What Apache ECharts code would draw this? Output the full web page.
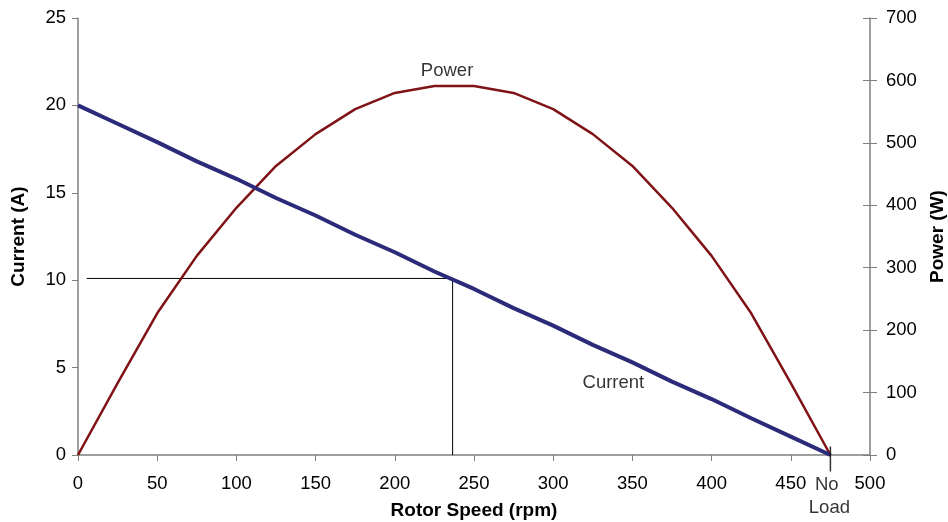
<!DOCTYPE html>
<html><head><meta charset="utf-8">
<script src="https://cdn.jsdelivr.net/npm/echarts@6/dist/echarts.min.js"></script>
<style>html,body{margin:0;padding:0;background:#fff}#c{width:948px;height:522px}</style>
</head><body><div id="c"></div>
<script>
const speeds = [0,25,50,75,100,125,150,175,200,225,250,275,300,325,350,375,400,425,450,475];
const currentA = [20,18.95,17.9,16.8,15.8,14.7,13.7,12.6,11.6,10.5,9.5,8.4,7.4,6.3,5.3,4.2,3.2,2.1,1.05,0];
const powerW = [0,115,227,319,396,463,514,554,580,591,591,580,554,514,463,396,319,227,115,0];
const guideX = [5.5,236.5,236.5];
const guideY = [10.1,10.1,0];
const noLoadSpeed = 475;
const powerLabel = {x:233, y:615, text:'Power'};
const currentLabel = {x:338, y:4.1, text:'Current'};
const xTicks = {min:0,max:500,interval:50};
const leftTicks = {min:0,max:25,interval:5};
const rightTicks = {min:0,max:700,interval:100};

const font = 'Liberation Sans, Arial, sans-serif';
const fs = 18.5, fsB = 19;
const axisGrey = '#7f7f7f';
const gridRect = {left:78,right:78,top:18,bottom:67,outerBoundsMode:'none',containLabel:false};
const chart = echarts.init(document.getElementById('c'), null, {renderer:'canvas'});
chart.setOption({
  animation:false,
  grid:[Object.assign({},gridRect), Object.assign({},gridRect)],
  xAxis:[
    {type:'value',gridIndex:0,min:xTicks.min,max:xTicks.max,interval:xTicks.interval,
    name:'Rotor Speed (rpm)',nameLocation:'middle',nameGap:46,
    nameTextStyle:{fontFamily:font,fontSize:fsB,fontWeight:'bold',color:'#000'},
    axisLine:{show:true,onZero:false,lineStyle:{color:axisGrey,width:1.5}},
    axisTick:{show:true,length:6,lineStyle:{color:axisGrey}},
    axisLabel:{fontFamily:font,fontSize:fs,color:'#000',margin:19},
    splitLine:{show:false}},
    {type:'value',gridIndex:1,min:xTicks.min,max:xTicks.max,show:false}
  ],
  yAxis:[
    {type:'value',gridIndex:0,position:'left',min:leftTicks.min,max:leftTicks.max,interval:leftTicks.interval,
      name:'Current (A)',nameLocation:'middle',nameGap:50,nameRotate:90,
      nameTextStyle:{fontFamily:font,fontSize:fsB,fontWeight:'bold',color:'#000'},
      axisLine:{show:true,onZero:false,lineStyle:{color:axisGrey,width:1.5}},
      axisTick:{show:true,length:6,lineStyle:{color:axisGrey}},
      axisLabel:{fontFamily:font,fontSize:fs,color:'#000',margin:12},
      splitLine:{show:false}},
    {type:'value',gridIndex:0,position:'right',min:rightTicks.min,max:rightTicks.max,interval:rightTicks.interval,
      name:'Power (W)',nameLocation:'middle',nameGap:57,nameRotate:90,
      nameTextStyle:{fontFamily:font,fontSize:fsB,fontWeight:'bold',color:'#000'},
      axisLine:{show:true,onZero:false,lineStyle:{color:axisGrey,width:1.5}},
      axisTick:{show:true,length:7,lineStyle:{color:axisGrey}},
      axisLabel:{fontFamily:font,fontSize:fs,color:'#000',margin:16},
      splitLine:{show:false}},
    {type:'value',gridIndex:1,position:'right',min:rightTicks.min,max:rightTicks.max,interval:rightTicks.interval,
      axisLine:{show:false,onZero:false},
      axisTick:{show:true,inside:true,length:7,lineStyle:{color:axisGrey}},
      axisLabel:{show:false},splitLine:{show:false}}
  ],
  series:[
    {name:'guide',type:'line',xAxisIndex:0,yAxisIndex:0,data:guideX.map((x,i)=>[x,guideY[i]]),
      symbol:'none',lineStyle:{color:'#000',width:1},z:1,silent:true},
    {name:'Power',type:'line',xAxisIndex:0,yAxisIndex:1,data:speeds.map((s,i)=>[s,powerW[i]]),
      symbol:'none',lineStyle:{color:'#7f1315',width:2.5},z:2},
    {name:'Current',type:'line',xAxisIndex:0,yAxisIndex:0,data:speeds.map((s,i)=>[s,currentA[i]]),
      symbol:'none',lineStyle:{color:'#2b2b7a',width:4},z:3},
    {name:'noLoad',type:'scatter',xAxisIndex:0,yAxisIndex:0,data:[[noLoadSpeed,0]],
      symbol:'rect',symbolSize:[1.5,25],symbolOffset:[0,4],itemStyle:{color:'#000'},
      label:{show:true,position:'bottom',distance:0,formatter:'No \nLoad',
        fontFamily:font,fontSize:fs,color:'#000',lineHeight:23,offset:[-1,2]},z:4,silent:true},
    {name:'labels',type:'scatter',xAxisIndex:0,yAxisIndex:0,
      data:[[powerLabel.x,powerLabel.y*leftTicks.max/rightTicks.max,powerLabel.text],[currentLabel.x,currentLabel.y,currentLabel.text]],
      symbolSize:0,
      label:{show:true,position:'inside',formatter:p=>p.data[2],fontFamily:font,fontSize:fs,color:'#000'},silent:true}
  ]
});
</script></body></html>
